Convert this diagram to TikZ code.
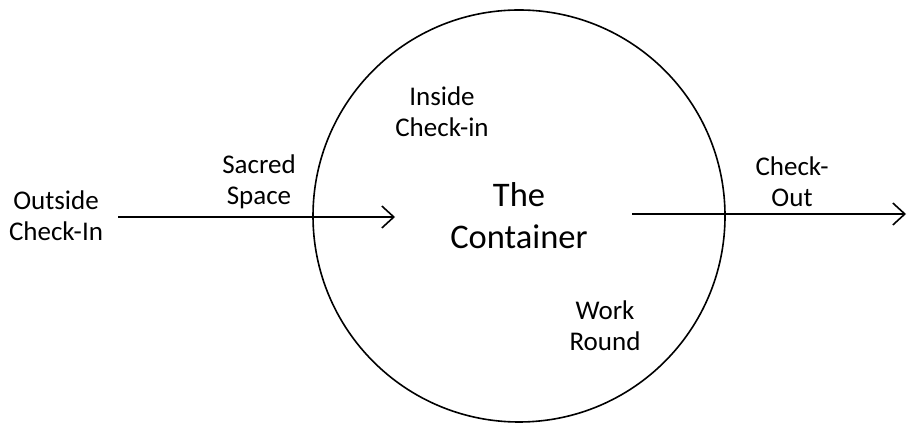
\documentclass[tikz,border=0pt]{standalone}
\usepackage{fontspec}
\setmainfont{Carlito}
\usepackage{tikz}
\usetikzlibrary{positioning,arrows.meta}
\tikzset{
    ring/.style={circle,draw,line width=1.6pt,minimum size=412pt,inner sep=0pt,align=center,
        font=\fontsize{34.5}{42}\selectfont},
    lbl/.style={align=center,inner sep=0pt,font=\fontsize{27}{31}\selectfont},
    flow/.style={line width=1.6pt,-{Straight Barb[length=12pt,width=22pt,line width=1.6pt]}},
}
\begin{document}
\begin{tikzpicture}[x=1pt,y=1pt]
    \useasboundingbox (0,0) rectangle (907,425);
    \node[ring] (cont) at (519,209) {The\\Container};

    \node[lbl] (outci) at (56,209) {Outside\\Check-In};
    \node[lbl] (sacred) at (259,243) {Sacred\\Space};
    \node[lbl] (insci) at (442,313) {Inside\\Check-in};
    \node[lbl] (work) at (605,99) {Work\\Round};
    \node[lbl] (chkout) at (792,243) {Check-\\Out};

    \coordinate (inS) at (118,208);
    \coordinate (inE) at (395,208);
    \coordinate (outS) at (632,211);
    \coordinate (outE) at (906,211);

    \draw[flow] (inS) -- (inE);
    \draw[flow] (outS) -- (outE);
\end{tikzpicture}
\end{document}
